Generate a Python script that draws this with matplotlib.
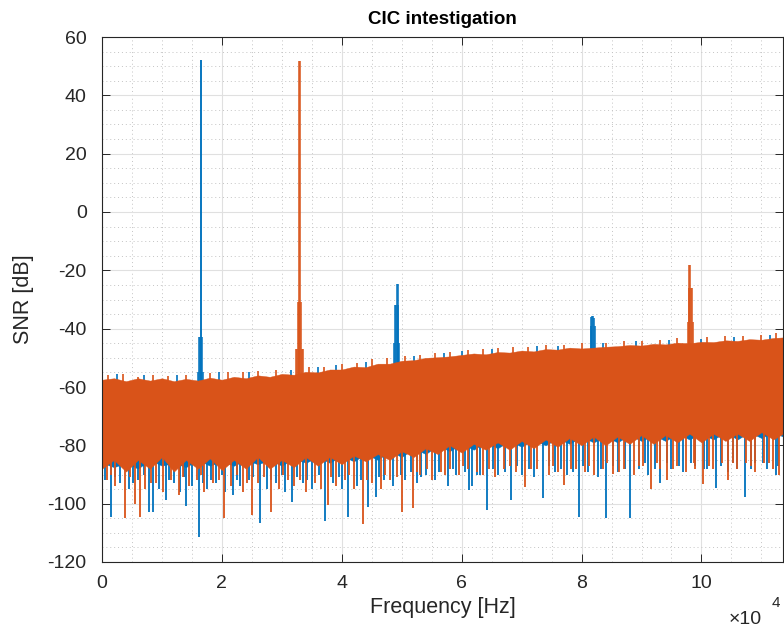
import matplotlib
matplotlib.use("Agg")
import matplotlib.pyplot as plt
from matplotlib.ticker import MultipleLocator, FuncFormatter
import numpy as np

# ---------------- data (frequencies in kHz, levels in dB) ----------------
env_f = [0, 2, 4, 6, 8, 10, 12, 14, 16, 18, 20, 22, 24, 26, 28, 30, 32, 34,
         36, 38, 40, 42, 44, 46, 48, 50, 52, 54, 56, 58, 60, 62, 64, 66, 68,
         70, 72, 74, 76, 78, 80, 82, 84, 86, 88, 90, 92, 94, 96, 98, 100, 102,
         104, 106, 108, 110, 112, 113.6]
orange_top = [-57.5, -57, -58, -57, -57.8, -57, -58, -57.2, -57.8, -56.8,
              -57.5, -56.5, -57, -56, -56.5, -55.5, -55.8, -54.8, -55, -54,
              -54, -53, -53.2, -52, -52, -51, -50.8, -50, -49.8, -49.5, -49,
              -48.5, -48.8, -48, -48.2, -47.5, -47.8, -47, -47.2, -46.5,
              -46.8, -46.5, -46.2, -46, -45.6, -45.8, -45.2, -45.4, -44.8,
              -45, -44.5, -44.6, -44, -44.2, -43.6, -43.8, -43.2, -43]
orange_bot = [-88, -85, -89, -85, -88, -84, -89, -85, -88, -84.5, -88.5, -85,
              -88, -84, -88, -85, -87.5, -84, -87, -84, -86.5, -83.5, -85.5,
              -83, -85, -82, -84, -81, -83, -80, -82.5, -79.5, -81.5, -79,
              -81.5, -78.5, -81, -78, -80.5, -77.5, -80, -77, -80, -77, -79.5,
              -76.5, -79.5, -76.5, -79, -76, -79, -76, -78.5, -76, -78.5,
              -75.5, -78, -76]
blue_top = [-58.5, -58, -59, -58, -58.8, -58, -59, -58.2, -58.8, -57.8,
            -58.5, -57.5, -58, -57, -57.5, -56.5, -56.8, -55.8, -56, -55,
            -55, -54, -54.2, -53, -53, -52, -51.8, -51, -50.8, -50.5, -50,
            -49.5, -49.8, -49, -49.2, -48.5, -48.8, -48, -48.2, -47.5, -47.8,
            -47.5, -47.2, -47, -46.6, -46.8, -46.2, -46.4, -45.8, -46, -45.5,
            -45.6, -45, -45.2, -44.6, -44.8, -44.2, -44]
blue_bot = [-86, -87.5, -86, -88, -85, -87, -86, -87.5, -85, -87, -85.5,
            -87, -85, -86.5, -85, -87, -84.5, -86, -84, -86, -83.5,
            -85.5, -83, -85, -82, -84, -81, -83, -80, -82, -79.5, -81.5,
            -79, -81, -78.5, -80.5, -78, -80, -77.5, -79.5, -77, -79, -77,
            -79, -76.5, -78.5, -76.5, -78.5, -76, -78, -76, -78, -75.5,
            -78, -75.5, -77.5, -75.5, -77]

# downward spikes of the noise floor
blue_dn_f = [1.5, 3.0, 4.5, 6.0, 7.85, 8.5, 9.5, 10.7, 12.0, 13.0, 14.0, 15.0,
             16.2, 17.5, 19.0, 20.5, 21.9, 23.0, 24.5, 26.4, 27.5, 29.0, 30.5,
             31.7, 33.5, 35.0, 37.2, 38.5, 40.0, 41.1, 42.5, 44.4, 45.7, 47.0,
             48.5, 50.5, 52.5, 54.0, 55.5, 57.8, 59.0, 61.3, 61.8, 63.0, 64.3,
             66.0, 68.3, 70.0, 72.0, 73.6, 75.5, 77.5, 79.6, 81.0, 82.8, 84.1,
             86.0, 88.0, 89.5, 91.0, 93.0, 95.0, 97.0, 99.0, 101.0, 102.5,
             104.5, 106.0, 107.3, 109.0, 111.0, 112.5,
             0.5, 2.2, 5.2, 7.0, 11.2, 13.6, 16.8, 18.2, 20.0, 22.5, 25.2,
             28.2, 30.0, 32.5, 34.2, 36.2, 39.5, 43.2, 46.2, 49.8, 51.5, 53.2,
             56.2, 58.5, 60.5, 62.5, 65.2, 67.2, 69.3, 71.2, 74.5, 76.6, 78.5,
             80.2, 83.2, 85.2, 87.2, 90.5, 92.2, 94.2, 96.2, 98.2, 100.5,
             103.2, 105.2, 108.2, 110.2, 112.8]
blue_dn_db = [-104.5, -93, -95, -92, -103, -103, -95, -98.7, -93, -96, -100.8,
              -94, -111.4, -95, -93, -96, -97, -94, -92, -106.6, -95, -93, -96,
              -99.3, -93, -95, -106, -93, -95, -104.6, -94, -101, -97.6, -92,
              -94, -92, -93, -90, -92, -94, -90, -95.3, -94, -90, -102, -90,
              -98.7, -90, -91, -98, -89, -90, -104.5, -89, -91, -105, -89,
              -105, -88, -90, -92.9, -88, -89, -87, -88, -94.6, -89, -88,
              -97.6, -86, -88, -90,
              -92, -91, -93, -90, -92, -91, -93, -92, -90, -92, -91, -92, -90,
              -91, -92, -90, -91, -92, -91, -90, -89, -91, -89, -88, -89, -90,
              -88, -89, -87, -88, -87, -88, -89, -87, -88, -87, -88, -86, -88,
              -86, -87, -86, -88, -87, -86, -88, -86, -87]
orange_dn_f = [0.8, 2.2, 3.8, 5.5, 6.3, 7.2, 9.0, 10.2, 11.5, 12.8, 14.5, 15.8,
               17.0, 18.5, 20.4, 21.5, 23.5, 25.0, 26.0, 28.2, 29.5, 31.0,
               32.0, 34.0, 35.5, 36.5, 37.7, 39.0, 40.5, 42.0, 43.6, 45.0,
               46.5, 48.0, 50.1, 51.9, 53.0, 55.0, 56.5, 58.0, 59.6, 61.0,
               62.5, 63.6, 65.5, 67.0, 69.0, 70.6, 72.5, 74.5, 76.0, 77.1,
               79.0, 80.5, 82.0, 83.5, 85.3, 87.0, 88.8, 90.2, 91.6, 93.0,
               94.2, 96.0, 97.5, 99.0, 100.3, 102.0, 103.5, 104.5, 106.0,
               107.5, 109.0, 110.5, 112.0, 113.0,
               1.5, 4.6, 8.2, 13.5, 16.5, 19.5, 22.5, 24.2, 27.0, 30.2, 33.0,
               38.2, 41.2, 44.2, 47.2, 49.2, 52.5, 54.2, 57.2, 60.3, 64.5,
               68.0, 71.5, 75.2, 78.2, 81.2, 84.2, 86.2, 89.5, 92.5, 95.2,
               98.8, 101.2, 105.2, 108.2, 111.2]
orange_dn_db = [-92, -94, -105, -100, -104.6, -95, -93, -96, -92, -97, -94,
                -92, -96, -93, -105, -94, -96, -104, -93, -103, -95, -92, -94,
                -96, -93, -95, -100.5, -94, -92, -95, -107, -93, -95, -92,
                -103, -101.6, -90, -92, -89, -88, -90, -88, -89, -90, -91,
                -88, -89, -94.3, -88, -90, -89, -93.6, -88, -89, -90, -88,
                -89.8, -88, -90, -87, -95, -88, -91.9, -87, -89, -88, -93.2,
                -88, -86, -92, -88, -86, -89, -86, -88, -90,
                -90, -91, -93, -91, -90, -92, -90, -93, -91, -90, -92, -91,
                -90, -92, -90, -91, -89, -88, -90, -87, -88, -87, -88, -87,
                -88, -87, -86, -89, -87, -86, -88, -86, -87, -86, -87, -86]

# small upward teeth on the top edge of the noise floor
orange_up_f = [1.0, 3.5, 6.0, 8.5, 11.0, 14.0, 18.0, 21.0, 23.5, 26.0, 29.0,
               34.5, 37.0, 40.0, 42.5, 45.0, 47.5, 50.5, 53.0, 55.5, 58.0,
               61.0, 63.5, 66.0, 68.5, 71.0, 74.0, 77.0, 80.0, 84.0, 87.0,
               90.0, 93.0, 96.0, 101.0, 104.0, 107.0, 110.0, 112.5]
orange_up_db = [-56, -55.5, -56.5, -55.8, -56.2, -55.8, -55.3, -55, -55,
                -54.5, -54, -53, -53.2, -52, -51.8, -50.5, -50.2, -49.5,
                -49, -48.3, -48, -47.3, -47, -46.5, -46.3, -46.2, -45.5,
                -45.5, -45, -44.8, -44.3, -44.2, -43.8, -43.2, -42.8, -42.5,
                -42.5, -42, -41.5]
blue_up_f = [2.5, 7.0, 12.5, 19.5, 24.5, 31.5, 36.0, 39.0, 44.0, 52.0, 57.0,
             60.0, 65.0, 72.5, 76.0, 83.5, 89.0, 94.5, 100.0, 105.5, 111.5]
blue_up_db = [-55.5, -56, -55.8, -55, -55, -54, -53, -52.5, -51.5, -49.5,
              -48.5, -47.8, -46.8, -46, -45.8, -45, -44.3, -44, -43.5, -42.8,
              -42]

# tonal peaks (bins)
blue_pk_f = [16.0, 16.15, 16.3, 16.45, 16.55, 16.7, 16.85,
             48.7, 48.85, 49.0, 49.15, 49.3, 49.45, 49.6,
             81.5, 81.65, 81.8, 81.95, 82.1, 82.25]
blue_pk_db = [-55, -43, -43, 52, 52, -43, -55,
              -45, -32, -32, -24.7, -24.7, -32, -45,
              -39, -36, -35.7, -35.7, -36.5, -39]
orange_pk_f = [32.35, 32.5, 32.65, 32.8, 32.9, 33.0, 33.15, 33.3, 33.45,
               97.7, 97.85, 98.0, 98.15, 98.3, 98.45, 98.6]
orange_pk_db = [-47, -47, -31, -31, 51.8, 51.8, -31, -47, -47,
                -37.7, -26, -18.2, -18.2, -26, -26, -37.7]

x_ticks = [0, 2, 4, 6, 8, 10]          # x 10^4 Hz
y_ticks = list(range(-120, 61, 20))
title = "CIC intestigation"
xlabel = "Frequency [Hz]"
ylabel = "SNR [dB]"

# ---------------- style ----------------
BLUE = "#0072BD"
ORANGE = "#D95319"
TXT = "#262626"
plt.rcParams["font.family"] = ["Liberation Sans", "DejaVu Sans"]
plt.rcParams["axes.unicode_minus"] = False

fig = plt.figure(figsize=(7.84, 6.30), dpi=100)
ax = fig.add_axes([102 / 784, 1 - 562 / 630, (783 - 102) / 784, (562 - 37) / 630])

def khz(a):
    return np.asarray(a, dtype=float) * 1e3

INNER = -70   # a level always inside the solid noise band

def draw_series(color, top, bot, dn_f, dn_db, up_f, up_db, pk_f, pk_db, z):
    ax.fill_between(khz(env_f), bot, top, color=color, lw=0.3, zorder=z)
    ax.vlines(khz(dn_f), dn_db, INNER, color=color, lw=1.3, zorder=z)
    ax.vlines(khz(up_f), np.asarray(up_db) - 4, up_db, color=color, lw=1.2, zorder=z)
    ax.vlines(khz(pk_f), INNER, pk_db, color=color, lw=1.1, zorder=z)

draw_series(BLUE, blue_top, blue_bot, blue_dn_f, blue_dn_db, blue_up_f,
            blue_up_db, blue_pk_f, blue_pk_db, 3)
draw_series(ORANGE, orange_top, orange_bot, orange_dn_f, orange_dn_db,
            orange_up_f, orange_up_db, orange_pk_f, orange_pk_db, 4)

ax.set_xlim(0, 113600)
ax.set_ylim(-120, 60)
ax.set_xticks([t * 1e4 for t in x_ticks])
ax.xaxis.set_major_formatter(FuncFormatter(lambda v, p: f"{v / 1e4:g}"))
ax.set_yticks(y_ticks)
ax.xaxis.set_minor_locator(MultipleLocator(5000))
ax.yaxis.set_minor_locator(MultipleLocator(5))

ax.grid(True, which="major", color="#e0e0e0", lw=0.8, zorder=0)
ax.grid(True, which="minor", color="#c4c4c4", lw=0.7, ls=(0, (1, 3)), zorder=0)
ax.set_axisbelow(True)

ax.tick_params(which="major", direction="in", length=6, width=0.7,
               colors=TXT, labelsize=14, top=True, right=True)
ax.tick_params(axis="y", which="major", pad=11)
ax.tick_params(axis="x", which="major", pad=9)
ax.tick_params(which="minor", length=0)
for s in ax.spines.values():
    s.set_color(TXT)
    s.set_linewidth(0.8)
    s.set_zorder(6)

ax.set_title(title, fontsize=13.5, fontweight="bold", color="black", pad=9)
ax.set_xlabel(xlabel, fontsize=15.5, color=TXT, labelpad=4)
ax.set_ylabel(ylabel, fontsize=15.5, color=TXT, labelpad=10)

fig.text(729 / 784, 1 - 624 / 630, "×10", fontsize=14, color=TXT,
         ha="left", va="baseline")
fig.text(772 / 784, 1 - 607 / 630, "4", fontsize=11, color=TXT,
         ha="left", va="baseline")

fig.savefig("out.png", dpi=100)
